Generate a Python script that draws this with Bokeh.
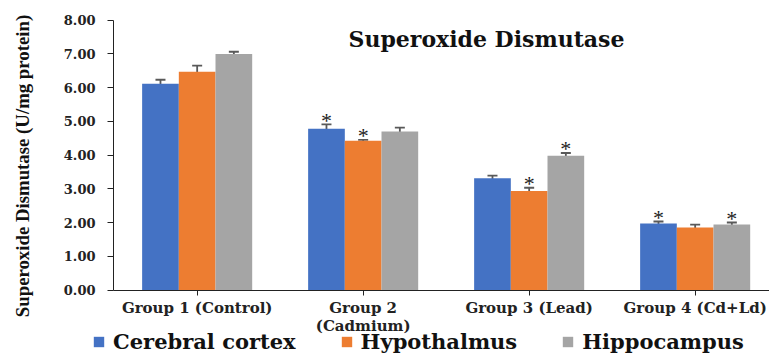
import math
from bokeh.plotting import figure
from bokeh.models import (ColumnDataSource, Range1d, Whisker, FixedTicker, Legend,
                          LegendItem, Label, NumeralTickFormatter, TeeHead)
from bokeh.core.properties import value
from bokeh.embed import file_html
from bokeh.resources import INLINE

# ---- data ----
groups = ["Group 1 (Control)", "Group 2\n(Cadmium)", "Group 3 (Lead)", "Group 4 (Cd+Ld)"]
series = ["Cerebral cortex", "Hypothalmus", "Hippocampus"]
cortex = [6.11, 4.78, 3.31, 1.97]
cortex_err = [0.12, 0.13, 0.08, 0.06]
hypo = [6.47, 4.42, 2.93, 1.85]
hypo_err = [0.18, 0.03, 0.10, 0.09]
hippo = [6.99, 4.70, 3.98, 1.94]
hippo_err = [0.07, 0.11, 0.08, 0.06]
cortex_sig = [False, True, False, True]
hypo_sig = [False, True, True, False]
hippo_sig = [False, False, True, True]
y_ticks = [0, 1, 2, 3, 4, 5, 6, 7, 8]

# ---- style / layout ----
colors = ["#4472C4", "#ED7D31", "#A5A5A5"]
offsets = [-0.221, 0.0, 0.221]
bar_w = 0.221
SERIF_W = "DejaVu Serif"
SERIF = "Liberation Serif"
X_LO = -0.504          # where the value axis sits (category units)
Y_LO, Y_HI = 0, 8

W, H = 769, 353
px_x = 166.0     # pixels per category
px_y = 33.75     # pixels per unit
frame_x = Range1d(X_LO - 113 / px_x, X_LO + (W - 113) / px_x)
frame_y = Range1d(-(H - 289.5) / px_y, Y_HI + 19.5 / px_y)

p = figure(width=W, height=H, output_backend="svg", toolbar_location=None,
           x_range=frame_x, y_range=frame_y,
           min_border_left=0, min_border_right=0, min_border_top=0,
           min_border_bottom=0)
p.outline_line_color = None
p.xgrid.visible = False
p.ygrid.visible = False
p.background_fill_color = "white"

vals = [cortex, hypo, hippo]
errs = [cortex_err, hypo_err, hippo_err]
sigs = [cortex_sig, hypo_sig, hippo_sig]
legend_items = []
for k in range(3):
    xs = [i + offsets[k] for i in range(len(groups))]
    src = ColumnDataSource(dict(
        x=xs, top=vals[k],
        lower=[v - e for v, e in zip(vals[k], errs[k])],
        upper=[v + e for v, e in zip(vals[k], errs[k])]))
    r = p.vbar(x="x", top="top", bottom=0, width=bar_w, source=src,
               fill_color=colors[k], line_color=None)
    legend_items.append(LegendItem(label=series[k], renderers=[r]))
    w = Whisker(base="x", lower="lower", upper="upper", source=src,
                line_color="#595959", line_width=1.8,
                upper_head=TeeHead(size=10, line_color="#595959", line_width=1.8),
                lower_head=TeeHead(size=10, line_color="#595959", line_width=1.8))
    p.add_layout(w)
    sx = [x for x, s in zip(xs, sigs[k]) if s]
    sy = [v + e for v, e, s in zip(vals[k], errs[k], sigs[k]) if s]
    p.text(x=sx, y=sy, text=["*"] * len(sx), text_align="center",
           text_baseline="alphabetic", y_offset=-4,
           text_font=value(SERIF), text_font_size="22px", text_color="#222222")

# axes (drawn at fixed data locations inside the frame)
p.yaxis.fixed_location = X_LO
p.yaxis.bounds = (Y_LO, Y_HI)
p.yaxis.ticker = FixedTicker(ticks=y_ticks)
p.yaxis.formatter = NumeralTickFormatter(format="0.00")
p.yaxis.major_tick_out = 6
p.yaxis.major_tick_in = 0
p.yaxis.minor_tick_line_color = None
p.yaxis.major_label_standoff = 12
p.yaxis.major_label_text_font = SERIF_W
p.yaxis.major_label_text_font_style = "bold"
p.yaxis.major_label_text_font_size = "13px"
p.yaxis.major_label_text_color = "#222222"
p.yaxis.axis_line_color = "#222222"
p.yaxis.major_tick_line_color = "#222222"

p.xaxis.fixed_location = Y_LO
p.xaxis.bounds = (X_LO, frame_x.end)
p.xaxis.ticker = FixedTicker(ticks=list(range(len(groups))))
p.xaxis.major_label_overrides = {i: g for i, g in enumerate(groups)}
p.xaxis.major_tick_out = 5
p.xaxis.major_tick_in = 0
p.xaxis.minor_tick_line_color = None
p.xaxis.major_label_standoff = 4
p.xaxis.major_label_text_font = SERIF_W
p.xaxis.major_label_text_font_style = "bold"
p.xaxis.major_label_text_font_size = "15px"
p.xaxis.major_label_text_line_height = 1.0
p.xaxis.major_label_text_color = "#222222"
p.xaxis.axis_line_color = "#222222"
p.xaxis.major_tick_line_color = "#222222"

# y-axis title
ylab = Label(x=X_LO - (113 - 22) / px_x, y=(289.5 - 165.5) / px_y,
             text="Superoxide Dismutase (U/mg protein)", angle=math.pi / 2,
             text_align="center", text_baseline="middle", text_font=SERIF,
             text_font_style="bold", text_font_size="18.8px", text_color="#111111")
p.add_layout(ylab)

# chart title inside plot area
title = Label(x=1.743, y=7.45, text="Superoxide Dismutase", text_align="center",
              text_baseline="middle", text_font=SERIF_W, text_font_style="bold",
              text_font_size="22px", text_color="#111111")
p.add_layout(title)

legend = Legend(items=legend_items, orientation="horizontal", location=(92, -1),
                glyph_width=13, glyph_height=13, label_standoff=8, spacing=44,
                padding=0, margin=0, border_line_color=None,
                background_fill_alpha=0, label_height=13,
                label_text_font=SERIF_W, label_text_font_style="bold",
                label_text_font_size="21px", label_text_color="#111111")
p.add_layout(legend, "center")

open("out.html", "w").write(file_html(p, INLINE))
